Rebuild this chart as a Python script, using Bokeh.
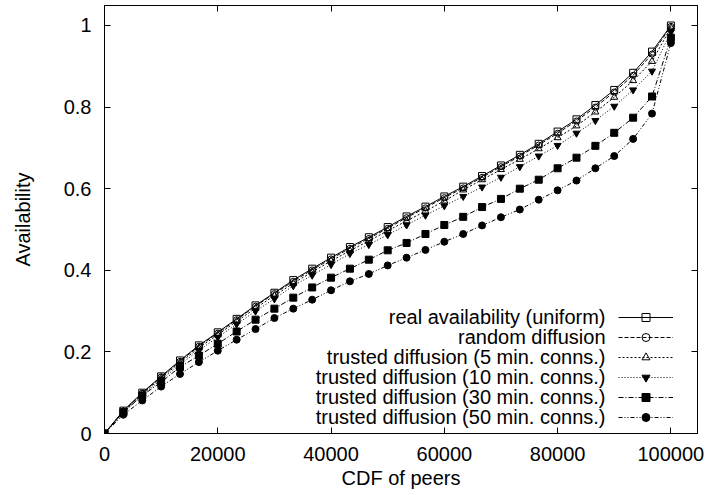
from bokeh.plotting import figure
from bokeh.models import (LinearAxis, FixedTicker, CustomJSTickFormatter, Legend,
                          LegendItem, Label, Range1d)
from bokeh.embed import file_html
from bokeh.resources import INLINE

FONT = "Liberation Sans"

peers = [0, 3333, 6667, 10000, 13333, 16667, 20000, 23333, 26667, 30000, 33333,
         36667, 40000, 43333, 46667, 50000, 53333, 56667, 60000, 63333, 66667,
         70000, 73333, 76667, 80000, 83333, 86667, 90000, 93333, 96667, 100000]

real_uniform = [0, 0.056, 0.100, 0.140, 0.179, 0.216, 0.248, 0.281, 0.314, 0.345, 0.376,
                0.404, 0.431, 0.457, 0.481, 0.506, 0.532, 0.556, 0.581, 0.605, 0.631,
                0.657, 0.683, 0.710, 0.740, 0.770, 0.805, 0.842, 0.884, 0.936, 1.0]
random_diff = [0, 0.055, 0.099, 0.139, 0.177, 0.214, 0.246, 0.279, 0.312, 0.343, 0.373,
               0.401, 0.428, 0.454, 0.478, 0.503, 0.529, 0.553, 0.578, 0.602, 0.628,
               0.654, 0.680, 0.707, 0.736, 0.766, 0.800, 0.837, 0.878, 0.930, 0.998]
trusted_5 = [0, 0.054, 0.097, 0.136, 0.174, 0.210, 0.242, 0.275, 0.307, 0.338, 0.368,
             0.396, 0.423, 0.448, 0.472, 0.497, 0.521, 0.545, 0.570, 0.597, 0.622,
             0.647, 0.672, 0.698, 0.725, 0.754, 0.788, 0.824, 0.865, 0.912, 0.995]
trusted_10 = [0, 0.052, 0.094, 0.132, 0.169, 0.204, 0.236, 0.268, 0.300, 0.330, 0.362,
              0.388, 0.414, 0.441, 0.463, 0.487, 0.511, 0.535, 0.558, 0.581, 0.604,
              0.628, 0.654, 0.680, 0.706, 0.736, 0.767, 0.802, 0.842, 0.888, 0.984]
trusted_30 = [0, 0.052, 0.093, 0.126, 0.163, 0.191, 0.220, 0.250, 0.279, 0.306, 0.333,
              0.358, 0.382, 0.404, 0.426, 0.449, 0.467, 0.489, 0.511, 0.531, 0.555,
              0.575, 0.600, 0.622, 0.650, 0.676, 0.705, 0.737, 0.774, 0.826, 0.970]
trusted_50 = [0, 0.046, 0.081, 0.115, 0.146, 0.175, 0.203, 0.230, 0.256, 0.283, 0.306,
              0.328, 0.351, 0.373, 0.391, 0.412, 0.431, 0.450, 0.470, 0.489, 0.510,
              0.530, 0.549, 0.573, 0.596, 0.620, 0.650, 0.680, 0.722, 0.784, 0.957]

labels = ["real availability (uniform)", "random diffusion",
          "trusted diffusion (5 min. conns.)", "trusted diffusion (10 min. conns.)",
          "trusted diffusion (30 min. conns.)", "trusted diffusion (50 min. conns.)"]

x_ticks = [0, 20000, 40000, 60000, 80000, 100000]
y_ticks = [0, 0.2, 0.4, 0.6, 0.8, 1.0]

series = [real_uniform, random_diff, trusted_5, trusted_10, trusted_30, trusted_50]
styles = [
    dict(dash="solid", marker="square", filled=False, size=7),
    dict(dash="4 2", marker="circle", filled=False, size=6),
    dict(dash="2 2", marker="triangle", filled=False, size=7),
    dict(dash="1 2", marker="inverted_triangle", filled=True, size=7),
    dict(dash="5 2 1 2", marker="square", filled=True, size=7),
    dict(dash="4 2 1 2 1 2", marker="circle", filled=True, size=7),
]

p = figure(width=707, height=493, output_backend="svg", toolbar_location=None,
           x_range=Range1d(0, 104700), y_range=Range1d(0, 1.049),
           min_border_left=104, min_border_right=10, min_border_top=5,
           min_border_bottom=60, background_fill_color="white",
           border_fill_color="white")
p.grid.visible = False
p.outline_line_color = "black"
p.outline_line_width = 1

def style_axis(ax, show_labels):
    ax.major_tick_in = 6
    ax.major_tick_out = 0
    ax.minor_tick_in = 0
    ax.minor_tick_out = 0
    ax.axis_line_color = "black"
    ax.major_tick_line_color = "black"
    ax.major_label_text_font = FONT
    ax.major_label_text_font_size = "20px"
    ax.major_label_text_color = "black"
    ax.axis_label_text_font = FONT
    ax.axis_label_text_font_size = "20px"
    ax.axis_label_text_font_style = "normal"
    ax.axis_label_text_color = "black"
    if not show_labels:
        ax.formatter = CustomJSTickFormatter(code="return ''")
        ax.major_label_standoff = 0

xb = p.xaxis[0]
yl = p.yaxis[0]
xb.ticker = FixedTicker(ticks=x_ticks)
yl.ticker = FixedTicker(ticks=y_ticks)
xb.formatter = CustomJSTickFormatter(code="return tick.toFixed(0)")
yl.formatter = CustomJSTickFormatter(code="return String(Math.round(tick*10)/10)")
style_axis(xb, True)
style_axis(yl, True)
xb.axis_label = "CDF of peers"
yl.axis_label = "Availability"
xb.major_label_standoff = 13
yl.major_label_standoff = 13
xb.axis_label_standoff = 3
yl.axis_label_standoff = 27

xt = LinearAxis(ticker=FixedTicker(ticks=x_ticks))
yr = LinearAxis(ticker=FixedTicker(ticks=y_ticks))
style_axis(xt, False)
style_axis(yr, False)
p.add_layout(xt, "above")
p.add_layout(yr, "right")

items = []
for ys, st in zip(series, styles):
    ln = p.line(peers, ys, line_color="black", line_width=1, line_dash=st["dash"])
    sc = p.scatter(peers, ys, marker=st["marker"], size=st["size"], line_color="black",
                   line_width=1, fill_color="black",
                   fill_alpha=1.0 if st["filled"] else 0.0)
    items.append(LegendItem(label=" ", renderers=[ln, sc]))

legend = Legend(items=items, location=(514, 6), orientation="vertical",
                glyph_width=55, glyph_height=20, label_height=20, label_width=0,
                label_standoff=0, label_text_font_size="1px", spacing=0,
                padding=0, margin=0, border_line_alpha=0,
                background_fill_alpha=0)
p.add_layout(legend, "center")

for i, txt in enumerate(labels):
    p.add_layout(Label(x=501, y=117 - i * 20, x_units="screen", y_units="screen",
                       text=txt, text_align="right", text_baseline="middle",
                       text_font=FONT, text_font_size="20px", text_color="black"))

open("out.html", "w").write(file_html(p, INLINE))
